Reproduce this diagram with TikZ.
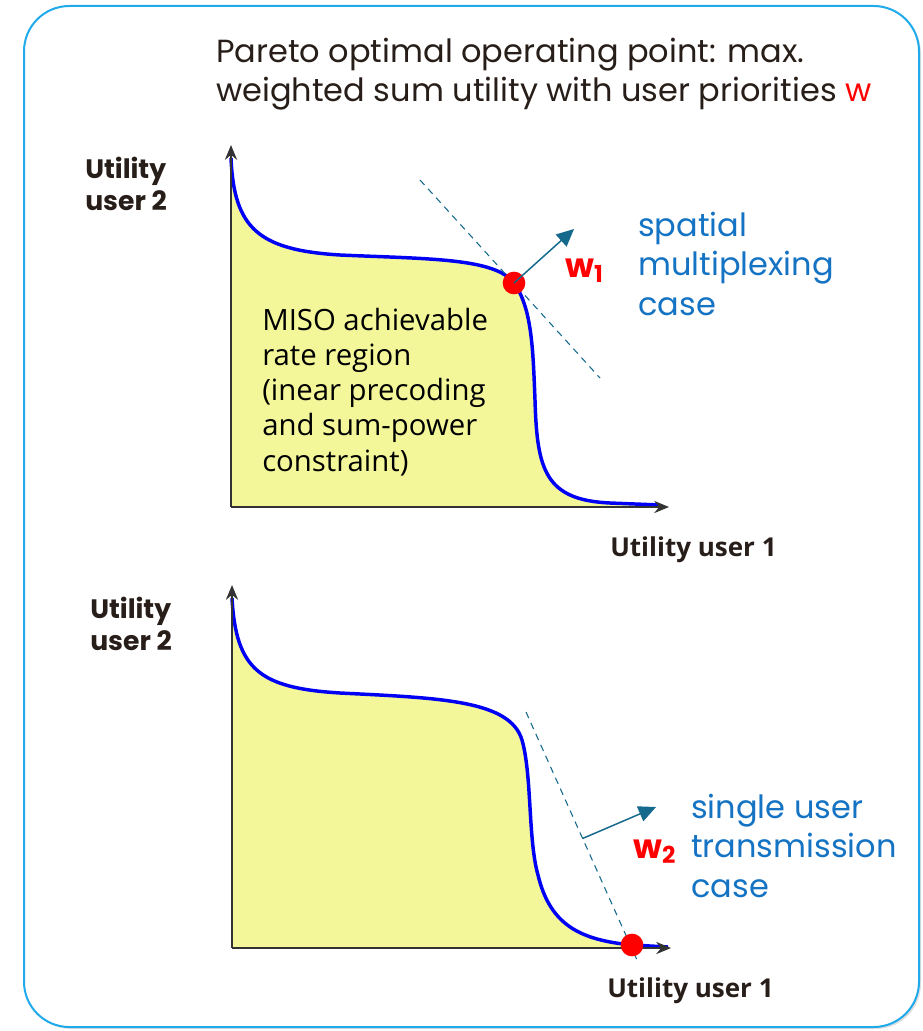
\documentclass[tikz,border=0pt]{standalone}
\usepackage{fontspec}
\setmainfont{Open Sans}
\newfontfamily\poppins{Poppins}
\usepackage{tikz}
\usetikzlibrary{positioning, calc, arrows.meta, shadows}

\definecolor{framecol}{RGB}{30,170,235}
\definecolor{regionfill}{RGB}{243,247,153}
\definecolor{frontier}{RGB}{0,0,245}
\definecolor{axiscol}{RGB}{51,51,51}
\definecolor{tealcol}{RGB}{20,105,140}
\definecolor{casecol}{RGB}{20,115,195}
\definecolor{inkcol}{RGB}{40,30,25}

\begin{document}
\begin{tikzpicture}[x=0.75pt, y=-0.75pt,
    axis/.style={draw=axiscol, line width=2.2pt, -{Stealth[length=11pt, width=9pt]}},
    region/.style={fill=regionfill, draw=none},
    frontierline/.style={draw=frontier, line width=2.6pt},
    tangent/.style={draw=tealcol, line width=0.8pt, dash pattern=on 5pt off 4pt},
    normal/.style={draw=tealcol, line width=1.1pt, -{Triangle[length=13pt, width=12pt]}},
    opt/.style={circle, fill=red, minimum size=17pt, inner sep=0pt},
    axislabel/.style={font=\bfseries\fontsize{19.5}{23}\selectfont, text=inkcol, align=left, inner sep=0pt},
    ylabel/.style={font=\poppins\bfseries\fontsize{20}{23.3}\selectfont, text=inkcol, align=left, inner sep=0pt},
    casetext/.style={font=\poppins\fontsize{24}{29.3}\selectfont, text=casecol, align=left, inner sep=0pt},
    wlabel/.style={font=\poppins\bfseries\fontsize{25}{28}\selectfont, text=red, inner sep=0pt}]
  \useasboundingbox (0,0) rectangle (923,1031);

  % frame
  \draw[framecol, line width=1.5pt, rounded corners=34pt, fill=white,
        drop shadow={shadow xshift=1.5pt, shadow yshift=-1.5pt, opacity=0.25, fill=gray}]
    (24,6) rectangle (919,1027);

  % title (base = last line)
  \node[font=\poppins\fontsize{24}{29.3}\selectfont, text=inkcol, align=left, anchor=base west, inner sep=0pt]
    (title) at (216,102) {Pareto optimal operating point: max.\\weighted sum utility with user priorities \textcolor{red}{w}};

  % upper plot: spatial multiplexing
  \coordinate (o1) at (231,507);
  \coordinate (ytip1) at (231,145);
  \coordinate (xtip1) at (669,507);
  \fill[region] (o1) -- (231,158) .. controls (234,228) and (258,250) .. (340,255)
    .. controls (430,259) and (495,258) .. (514,283)
    .. controls (532,308) and (533,350) .. (535,400)
    .. controls (537,470) and (545,500) .. (610,503) -- (660,505) -- (660,507) -- cycle;
  \draw[frontierline] (231,158) .. controls (234,228) and (258,250) .. (340,255)
    .. controls (430,259) and (495,258) .. (514,283)
    .. controls (532,308) and (533,350) .. (535,400)
    .. controls (537,470) and (545,500) .. (610,503) -- (660,505);
  \draw[axis] (o1) -- (ytip1);
  \draw[axis] (o1) -- (xtip1);

  \coordinate (dashA1) at (420,180);
  \coordinate (dashB1) at (600,378);
  \draw[tangent] (dashA1) -- (dashB1);
  \node[opt] (p1) at (514,283) {};
  \coordinate (wtip1) at (574,229);
  \draw[normal] (p1.center) -- (wtip1);
  \node[wlabel, anchor=base west] (w1) at (565,277) {w\textsubscript{1}};

  \node[font=\fontsize{22}{26.3}\selectfont, text=black, align=left, anchor=base west, inner sep=0pt]
    (miso) at (262,471) {MISO achievable\\rate region\\(inear precoding\\and sum-power\\constraint)};
  \node[casetext, anchor=base west] (case1) at (638,315) {spatial\\multiplexing\\case};
  \node[ylabel, anchor=base west] (ylab1) at (85,210) {Utility\\user 2};
  \node[axislabel, anchor=base west] (xlab1) at (610,556) {Utility user 1};

  % lower plot: single user transmission
  \coordinate (o2) at (232,948);
  \coordinate (ytip2) at (232,585);
  \coordinate (xtip2) at (671,948);
  \fill[region] (o2) -- (232,598) .. controls (236,670) and (260,688) .. (340,693)
    .. controls (440,698) and (510,700) .. (522,740)
    .. controls (532,775) and (528,840) .. (538,875)
    .. controls (550,925) and (580,940) .. (632,945) -- (668,947) -- (668,948) -- cycle;
  \draw[frontierline] (232,598) .. controls (236,670) and (260,688) .. (340,693)
    .. controls (440,698) and (510,700) .. (522,740)
    .. controls (532,775) and (528,840) .. (538,875)
    .. controls (550,925) and (580,940) .. (632,945) -- (668,947);
  \draw[axis] (o2) -- (ytip2);
  \draw[axis] (o2) -- (xtip2);

  \coordinate (dashA2) at (526,712);
  \coordinate (dashB2) at (637,960);
  \draw[tangent] (dashA2) -- (dashB2);
  \node[opt] (p2) at (632,945) {};
  \coordinate (wfoot2) at ($(dashA2)!0.51!(dashB2)$);
  \coordinate (wtip2) at (656,807);
  \draw[normal] (wfoot2) -- (wtip2);
  \node[wlabel, anchor=base west] (w2) at (633,858) {w\textsubscript{2}};

  \node[casetext, anchor=base west] (case2) at (691,897) {single user\\transmission\\case};
  \node[ylabel, anchor=base west] (ylab2) at (90,650) {Utility\\user 2};
  \node[axislabel, anchor=base west] (xlab2) at (607,997) {Utility user 1};
\end{tikzpicture}
\end{document}
